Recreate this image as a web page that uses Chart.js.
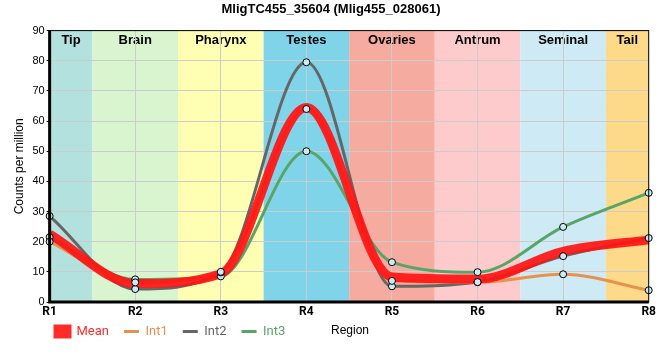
<!DOCTYPE html>
<html>
<head>
<meta charset="utf-8">
<script src="https://cdn.jsdelivr.net/npm/chart.js@4"></script>
<style>
  html, body { margin: 0; padding: 0; background: #fff; }
  #wrap { width: 660px; height: 360px; }
</style>
</head>
<body>
<div id="wrap"><canvas id="chart"></canvas></div>
<script>
const regions = ["R1", "R2", "R3", "R4", "R5", "R6", "R7", "R8"];
const int1 = [20, 6.5, 10, 64, 7, 6.6, 9.2, 3.9];
const int2 = [28.5, 4.3, 9.8, 79.5, 5.2, 6.6, 15.2, 21.2];
const int3 = [21.5, 7.5, 8.5, 50, 13.2, 9.9, 24.9, 36.2];
const mean = [22.5, 6.1, 9.4, 64.5, 8.3, 7.6, 16.8, 20.6];
const yTicks = [0, 10, 20, 30, 40, 50, 60, 70, 80, 90];

// tissue bands, one per region column
const bandNames = ["Tip", "Brain", "Pharynx", "Testes", "Ovaries", "Antrum", "Seminal", "Tail"];
const bandColors = ["#b3e2de", "#d9f5cf", "#ffffb3", "#80d4ea", "#f5ab9f", "#fdcbcb", "#cdeaf5", "#fdd98a"];

const bandsPlugin = {
  id: "bands",
  afterLayout(chart) {
    // pull the legend up so it shares a row with the axis title
    const lg = chart.legend;
    if (lg) {
      lg.top -= 12;
      lg.bottom -= 12;
      lg.left += 28;
      lg.right += 28;
    }
  },
  beforeDraw(chart) {
    const { ctx, chartArea: a, scales: { x } } = chart;
    ctx.save();
    const step = x.getPixelForValue(1) - x.getPixelForValue(0);
    bandNames.forEach((name, i) => {
      const c = x.getPixelForValue(i);
      const l = Math.max(a.left, c - step / 2);
      const r = Math.min(a.right, c + step / 2);
      ctx.fillStyle = bandColors[i];
      ctx.fillRect(l, a.top, r - l, a.bottom - a.top);
      ctx.fillStyle = "#000";
      ctx.font = "bold 13px 'Liberation Sans', Arial, sans-serif";
      ctx.textAlign = "center";
      ctx.textBaseline = "middle";
      ctx.fillText(name, (l + r) / 2, a.top + 10);
    });
    ctx.restore();
  },
  afterDraw(chart) {
    const { ctx, chartArea: a } = chart;
    ctx.save();
    ctx.strokeStyle = "#000";
    ctx.lineWidth = 1;
    ctx.strokeRect(a.left, a.top, a.right - a.left, a.bottom - a.top);
    ctx.lineWidth = 3;
    ctx.beginPath();
    ctx.moveTo(a.left, a.top);
    ctx.lineTo(a.left, a.bottom);
    ctx.lineTo(a.right, a.bottom);
    ctx.stroke();
    // x axis title sits on the legend row
    ctx.fillStyle = "#000";
    ctx.font = "12px 'Liberation Sans', Arial, sans-serif";
    ctx.textAlign = "left";
    ctx.textBaseline = "middle";
    ctx.fillText("Region", 331, 331);
    ctx.restore();
  }
};

const pointStyle = {
  showLine: false,
  pointRadius: 3.5,
  pointBackgroundColor: "#cdeaf5",
  pointBorderColor: "#000",
  pointBorderWidth: 1,
  order: 1
};

const lineBase = {
  cubicInterpolationMode: "monotone",
  pointRadius: 0,
  fill: false
};

const legendItems = [
  { text: "Mean", color: "#ff2a2a", style: "rect", width: 3 },
  { text: "Int1", color: "#e8914c", style: "line", width: 3 },
  { text: "Int2", color: "#666666", style: "line", width: 3 },
  { text: "Int3", color: "#5aa469", style: "line", width: 3 }
];

new Chart(document.getElementById("chart"), {
  type: "line",
  data: {
    labels: regions,
    datasets: [
      { ...lineBase, label: "Int1", data: int1, borderColor: "#e8914c", borderWidth: 3, order: 3 },
      { ...lineBase, label: "Int2", data: int2, borderColor: "#666666", borderWidth: 3, order: 3 },
      { ...lineBase, label: "Int3", data: int3, borderColor: "#5aa469", borderWidth: 3, order: 3 },
      { ...lineBase, label: "Mean", data: mean, borderColor: "rgba(255,20,20,0.92)", borderWidth: 9, order: 2 },
      { ...pointStyle, label: "p1", data: int1 },
      { ...pointStyle, label: "p2", data: int2 },
      { ...pointStyle, label: "p3", data: int3 }
    ]
  },
  options: {
    responsive: true,
    maintainAspectRatio: false,
    animation: false,
    layout: { padding: { top: 0, right: 10, left: 12, bottom: 0 } },
    plugins: {
      title: {
        display: true,
        text: "MligTC455_35604 (Mlig455_028061)",
        color: "#000",
        font: { family: "'Liberation Sans', Arial, sans-serif", size: 13, weight: "bold" },
        padding: { top: 2, bottom: 13 }
      },
      legend: {
        position: "bottom",
        align: "start",
        labels: {
          usePointStyle: true,
          pointStyleWidth: 15,
          boxHeight: 11,
          padding: 15,
          font: { family: "Roboto, sans-serif", size: 13 },
          generateLabels: () => legendItems.map(it => ({
            text: it.text,
            fillStyle: it.color,
            strokeStyle: it.color,
            fontColor: it.color,
            lineWidth: it.width,
            pointStyle: it.style,
            hidden: false
          }))
        }
      },
      tooltip: { enabled: false }
    },
    scales: {
      x: {
        offset: false,
        grid: { color: "#cccccc", drawTicks: false },
        border: { display: false },
        ticks: {
          color: "#000",
          padding: 4,
          font: { family: "Roboto, sans-serif", size: 12, weight: "bold", lineHeight: 1 }
        }
      },
      y: {
        min: 0,
        max: 90,
        afterBuildTicks: s => { s.ticks = yTicks.map(v => ({ value: v })); },
        grid: { color: "#cccccc", drawTicks: true, tickLength: 3, tickColor: "#000" },
        border: { display: false },
        ticks: {
          color: "#000",
          padding: 2,
          font: { family: "'Liberation Sans', Arial, sans-serif", size: 11 }
        },
        title: {
          display: true,
          text: "Counts per million",
          color: "#000",
          font: { family: "'Liberation Sans', Arial, sans-serif", size: 12 },
          padding: { top: 0, bottom: 4 }
        }
      }
    }
  },
  plugins: [bandsPlugin]
});
</script>
</body>
</html>
